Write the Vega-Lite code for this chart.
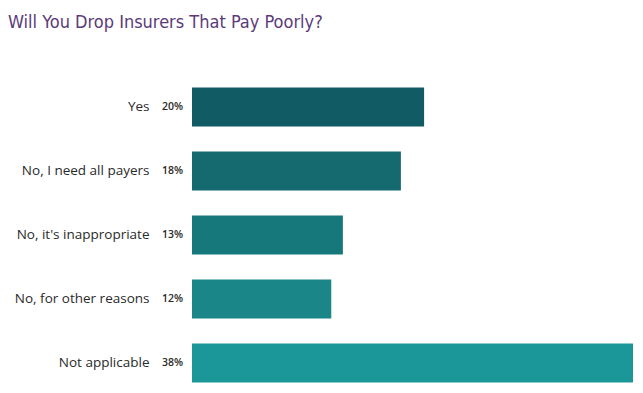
{
  "$schema": "https://vega.github.io/schema/vega-lite/v6.json",
  "width": 441,
  "height": 320,
  "autosize": {"type": "none"},
  "padding": {"left": 192, "top": 75, "right": 10, "bottom": 0},
  "background": "white",
  "title": {
    "text": "Will You Drop Insurers That Pay Poorly?",
    "anchor": "start",
    "frame": "group",
    "dx": -184,
    "offset": 43,
    "font": "DejaVu Sans Condensed, Roboto",
    "fontSize": 18,
    "fontWeight": "normal",
    "color": "#5b3b7a"
  },
  "data": {
    "values": [
      {"answer": "Yes", "pct": 20, "label": "20%", "col": "#115b64"},
      {"answer": "No, I need all payers", "pct": 18, "label": "18%", "col": "#156a70"},
      {"answer": "No, it's inappropriate", "pct": 13, "label": "13%", "col": "#17787c"},
      {"answer": "No, for other reasons", "pct": 12, "label": "12%", "col": "#1a8687"},
      {"answer": "Not applicable", "pct": 38, "label": "38%", "col": "#1c9799"}
    ]
  },
  "encoding": {
    "y": {
      "field": "answer",
      "type": "nominal",
      "sort": null,
      "scale": {"paddingInner": 0.39, "paddingOuter": 0.195},
      "axis": {
        "title": null,
        "domain": false,
        "ticks": false,
        "labelPadding": 43,
        "labelFont": "Open Sans",
        "labelFontSize": 13.5,
        "labelColor": "#2a2a2a"
      }
    }
  },
  "layer": [
    {
      "mark": {"type": "bar"},
      "encoding": {
        "x": {
          "field": "pct",
          "type": "quantitative",
          "scale": {"domain": [0, 38], "nice": false},
          "axis": null
        },
        "color": {"field": "col", "type": "nominal", "scale": null}
      }
    },
    {
      "mark": {"type": "text", "align": "right", "dx": -9, "font": "Open Sans", "fontSize": 10.5, "fontWeight": 600, "color": "#2a2a2a"},
      "encoding": {
        "x": {"datum": 0, "type": "quantitative"},
        "text": {"field": "label"}
      }
    }
  ],
  "config": {"view": {"stroke": null}}
}
